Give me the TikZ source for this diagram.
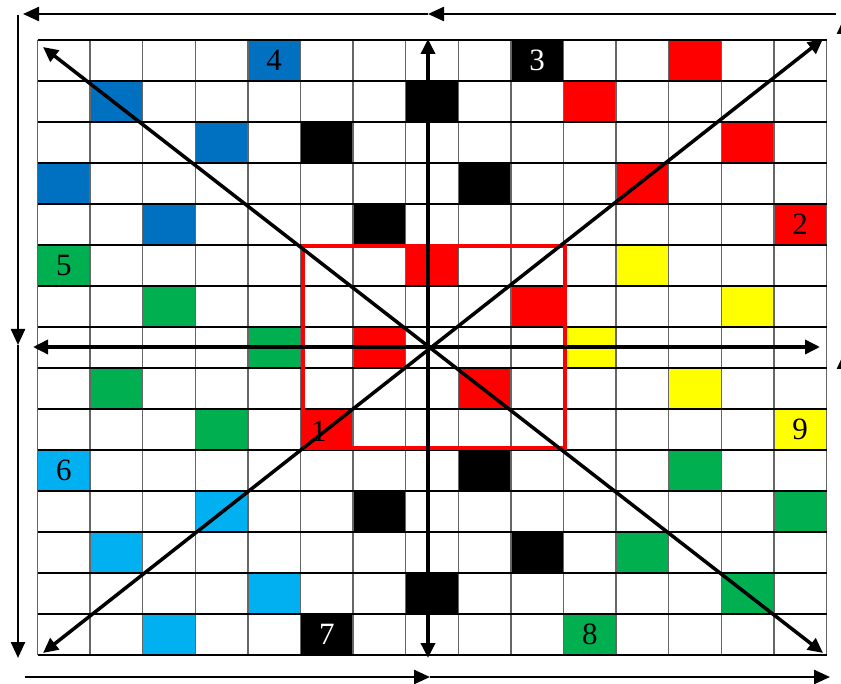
\documentclass[tikz,border=0pt]{standalone}
\usepackage{fontspec}
\setmainfont{Liberation Serif}
\usetikzlibrary{arrows.meta, calc}
\definecolor{blu}{HTML}{0070C0}
\definecolor{verde}{HTML}{00B050}
\definecolor{ciano}{HTML}{00B0F0}
\definecolor{giallo}{HTML}{FFFF00}
\definecolor{rosso}{HTML}{FF0000}

\begin{document}
\begin{tikzpicture}[x=1pt,y=-1pt,font=\fontsize{31}{31}\selectfont,
  freccia/.style={line width=3.5pt,{Triangle[width=14pt,length=15pt]}-{Triangle[width=14pt,length=15pt]}},
  bordo/.style={line width=2.4pt,-{Triangle[width=14pt,length=16pt]}}]
\useasboundingbox (0,0) rectangle (841,684);

% --- Griglia 15x15: origine (37.5,40), cella 52.6 x 41
\newcommand{\cella}[3]{%
  \fill[#3] ({37.5+#1*52.6},{40+#2*41}) rectangle ++(52.6,41);
}
\newcommand{\numero}[4]{%
  \node[#3] (n#4) at ({37.5+(#1+.5)*52.6},{40+(#2+.5)*41}) {#4};
}

% --- Celle colorate (colonna/riga/colore)
\foreach \c/\r/\col in {4/0/blu, 9/0/black, 12/0/rosso,
  1/1/blu, 7/1/black, 10/1/rosso,
  3/2/blu, 5/2/black, 13/2/rosso,
  0/3/blu, 8/3/black, 11/3/rosso,
  2/4/blu, 6/4/black, 14/4/rosso,
  0/5/verde, 7/5/rosso, 11/5/giallo,
  2/6/verde, 9/6/rosso, 13/6/giallo,
  4/7/verde, 6/7/rosso, 10/7/giallo,
  1/8/verde, 8/8/rosso, 12/8/giallo,
  3/9/verde, 5/9/rosso, 14/9/giallo,
  0/10/ciano, 8/10/black, 12/10/verde,
  3/11/ciano, 6/11/black, 14/11/verde,
  1/12/ciano, 9/12/black, 11/12/verde,
  4/13/ciano, 7/13/black, 13/13/verde,
  2/14/ciano, 5/14/black, 10/14/verde}{
  \cella{\c}{\r}{\col}
}

% --- Linee della griglia
\foreach \i in {0,...,15}{
  \draw[black!60, line width=1.3pt] ({37.5+\i*52.6},40) -- ({37.5+\i*52.6},655);
}
\foreach \j in {0,...,15}{
  \draw[black, line width=1.2pt] (37.5,{40+\j*41}) -- (826.5,{40+\j*41});
}

% --- Numeri
\numero{4.85}{9.05}{black}{1}
\numero{14}{4}{black}{2}
\numero{9}{0}{white}{3}
\numero{4}{0}{black}{4}
\numero{0}{5}{black}{5}
\numero{0}{10}{black}{6}
\numero{5}{14}{white}{7}
\numero{10}{14}{black}{8}
\numero{14}{9}{black}{9}

% --- Riquadro rosso centrale
\draw[rosso, line width=4pt] (302.5,246) rectangle (565,448);

% --- Assi e diagonali
\coordinate (vs) at (428,39);
\coordinate (vi) at (428,658);
\coordinate (os) at (33,347);
\coordinate (od) at (820,347);
\coordinate (as) at (43,47);
\coordinate (bd) at (823,653);
\coordinate (ad) at (823,39);
\coordinate (bs) at (43,653);
\draw[freccia] (vi) -- (vs);
\draw[freccia] (os) -- (od);
\draw[freccia] (as) -- (bd);
\draw[freccia] (ad) -- (bs);

% --- Frecce esterne
\coordinate (T0) at (836,14);
\coordinate (T1) at (428,14);
\coordinate (T2) at (23,14);
\coordinate (L0) at (18,15);
\coordinate (L1) at (18,345);
\coordinate (L2) at (18,658);
\coordinate (B0) at (25,677);
\coordinate (B1) at (430,677);
\coordinate (B2) at (830,677);
\coordinate (R0) at (844,660);
\coordinate (R1) at (844,353);
\coordinate (R2) at (844,18);
\draw[bordo] (T0) -- (T1);
\draw[bordo] (T1) -- (T2);
\draw[bordo] (L0) -- (L1);
\draw[bordo] (L1) -- (L2);
\draw[bordo] (B0) -- (B1);
\draw[bordo] (B1) -- (B2);
\draw[bordo] (R0) -- (R1);
\draw[bordo] (R1) -- (R2);

\end{tikzpicture}
\end{document}
